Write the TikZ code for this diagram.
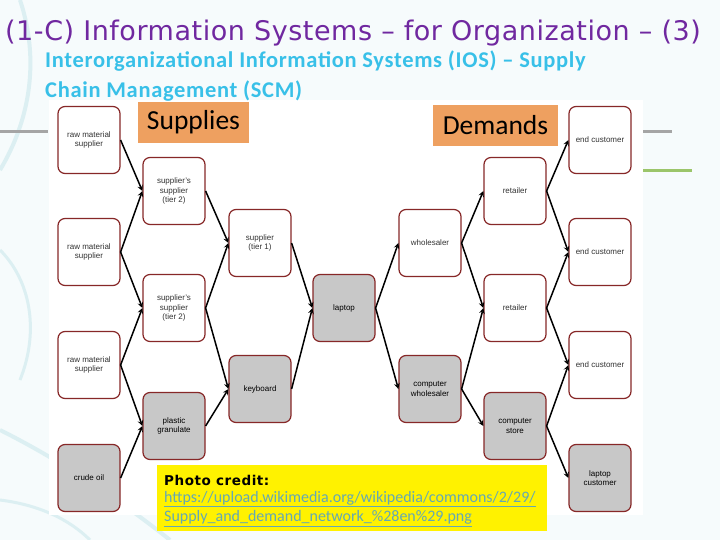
\documentclass[tikz,border=0pt]{standalone}
\usepackage{fontspec}
\setmainfont{Liberation Sans}
\newfontfamily\titlefont[LetterSpace=2]{DejaVu Sans}
\newfontfamily\bodyfont{Carlito}
\newfontfamily\subfont[LetterSpace=3]{Carlito}
\newfontfamily\creditfont[LetterSpace=4]{DejaVu Sans}
\usepackage{tikz}
\usetikzlibrary{positioning, arrows, shapes, calc}
\tikzset{>=stealth}
\definecolor{pagebg}{RGB}{246,251,252}
\definecolor{leaf}{RGB}{220,239,242}
\definecolor{titlepurple}{RGB}{112,40,160}
\definecolor{subcyan}{RGB}{56,192,232}
\definecolor{boxred}{RGB}{135,40,40}
\definecolor{boxgrey}{RGB}{200,200,200}
\definecolor{tagorange}{RGB}{238,160,96}
\definecolor{linkteal}{RGB}{100,168,180}
\definecolor{rulegrey}{RGB}{165,165,165}
\definecolor{rulegreen}{RGB}{155,197,106}

\begin{document}
\begin{tikzpicture}[x=1pt, y=-1pt,
  every node/.style={font=\fontsize{8}{9.5}\selectfont, text=black!80},
  party/.style={draw=boxred, line width=1.2pt, fill=white, rectangle, rounded corners=7pt,
    minimum width=62pt, minimum height=67pt, inner sep=1pt, align=center},
  goods/.style={party, fill=boxgrey, text=black},
  flow/.style={->, line width=1.5pt},
  tag/.style={fill=tagorange, inner sep=0pt, text=black, font=\bodyfont\fontsize{27.5}{30}\selectfont}]

% page and margins
\fill[pagebg] (0,0) rectangle (720,540);
\useasboundingbox (0,0) rectangle (720,540);
\draw[leaf, line width=4pt] (20,0) .. controls (40,60) and (30,120) .. (0,170);
\draw[leaf, line width=3pt] (0,250) .. controls (30,280) and (40,330) .. (20,380);
\draw[leaf, line width=4pt] (0,430) .. controls (60,460) and (120,500) .. (170,540);
\draw[leaf, line width=3pt] (0,500) .. controls (40,505) and (70,520) .. (90,540);
\fill[white] (49,100) rectangle (643,515);
\draw[rulegrey, line width=3pt] (0,132) -- (48,132);
\draw[rulegrey, line width=3pt] (643,132) -- (672,132);
\draw[rulegreen, line width=3pt] (643,171) -- (692,171);

% headings
\node[anchor=base west, inner sep=0pt, text=titlepurple, font=\titlefont\fontsize{27}{30}\selectfont]
  (title) at (5,41) {(1-C) Information Systems – for Organization – (3)};
\node[anchor=north west, inner sep=0pt, text=subcyan, align=left, font=\subfont\bfseries\fontsize{22.5}{29.5}\selectfont]
  (subtitle) at (45,51) {Interorganizational Information Systems (IOS) – Supply\\Chain Management (SCM)};

% supply side
\node[party] (rawA) at (89,140) {raw material\\supplier};
\node[party] (rawB) at (89,252) {raw material\\supplier};
\node[party] (rawC) at (89,365) {raw material\\supplier};
\node[goods] (crude) at (89,478) {crude oil};
\node[party] (tierTwoA) at (174,191) {supplier's\\supplier\\(tier 2)};
\node[party] (tierTwoB) at (174,308) {supplier's\\supplier\\(tier 2)};
\node[goods] (plastic) at (174,426) {plastic\\granulate};
\node[party] (tierOne) at (260,243) {supplier\\(tier 1)};
\node[goods] (keyboard) at (260,389) {keyboard};
\node[goods] (laptop) at (344,308) {laptop};

% demand side
\node[party] (wholesaler) at (430,243) {wholesaler};
\node[goods] (compWholesaler) at (430,389) {computer\\wholesaler};
\node[party] (retailA) at (515,191) {retailer};
\node[party] (retailB) at (515,308) {retailer};
\node[goods] (compStore) at (515,426) {computer\\store};
\node[party] (endA) at (600,140) {end customer};
\node[party] (endB) at (600,252) {end customer};
\node[party] (endC) at (600,365) {end customer};
\node[goods] (laptopCust) at (600,478) {laptop\\customer};

\foreach \src/\dst in {rawA/tierTwoA, rawB/tierTwoA, rawB/tierTwoB, rawC/tierTwoB, rawC/plastic,
    crude/plastic, tierTwoA/tierOne, tierTwoB/tierOne, tierTwoB/keyboard, plastic/keyboard,
    tierOne/laptop, keyboard/laptop, laptop/wholesaler, laptop/compWholesaler,
    wholesaler/retailA, wholesaler/retailB, compWholesaler/retailB, compWholesaler/compStore,
    retailA/endA, retailA/endB, retailB/endB, retailB/endC, compStore/endC, compStore/laptopCust}
  \draw[flow] (\src.east) -- (\dst.west);

% labels
\node[tag, minimum width=111pt, minimum height=41pt] (supplies) at (193.5,122.5) {Supplies};
\node[tag, minimum width=125pt, minimum height=41pt] (demands) at (495.5,125.5) {Demands};

% credit
\node[fill=yellow, anchor=north west, minimum width=390pt, minimum height=66pt, inner sep=0pt] (credit) at (157,465) {};
\node[anchor=base west, inner sep=0pt, text=black, font=\creditfont\bfseries\fontsize{13.5}{15}\selectfont]
  (creditHead) at (164,485) {Photo credit:};
\node[anchor=north west, inner sep=0pt, text=linkteal, align=left, font=\bodyfont\fontsize{16}{19.5}\selectfont]
  (creditLink) at (164,491) {\underline{https://upload.wikimedia.org/wikipedia/commons/2/29/}\\\underline{Supply\_and\_demand\_network\_\%28en\%29.png}};
\end{tikzpicture}
\end{document}
